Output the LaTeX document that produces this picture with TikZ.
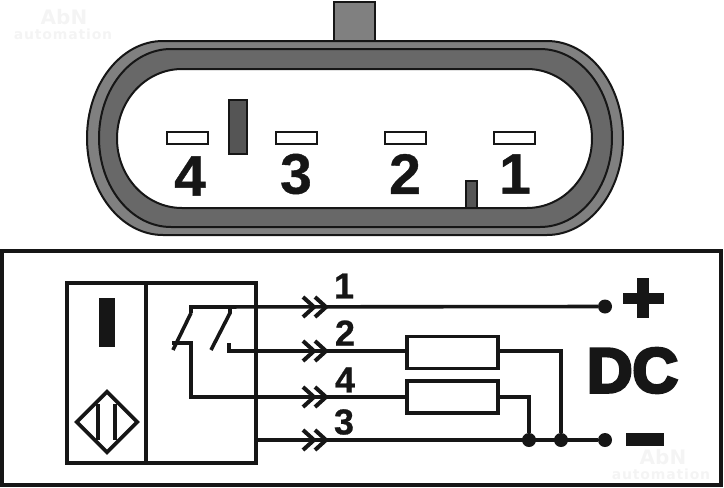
\documentclass[tikz,border=0pt]{standalone}
\usepackage{fontspec}
\usepackage{xcolor}
\setmainfont{Liberation Sans}
\newfontfamily\markfont{DejaVu Sans Bold}
\newfontfamily\widemarkfont[LetterSpace=6]{DejaVu Sans Bold}
\newfontfamily\digitfont[FakeBold=0.7]{Liberation Sans Bold}
\newfontfamily\heavyfont[FakeBold=5]{Liberation Sans Bold}
\usetikzlibrary{positioning}
\usetikzlibrary{shapes.geometric}
\definecolor{shellgray}{HTML}{808080}
\definecolor{bandgray}{HTML}{686868}
\definecolor{keygray}{HTML}{555555}
\definecolor{ink}{HTML}{161616}
\definecolor{markgray}{HTML}{F4F4F4}
\newcommand{\bigsize}{\digitfont\fontsize{57}{57}\selectfont}
\newcommand{\wiresize}{\digitfont\fontsize{36}{36}\selectfont}
\tikzset{
shell/.style={draw=ink,line width=2pt},
slot/.style={draw=ink,line width=2pt,fill=white,inner sep=0pt,minimum width=41,minimum height=12},
pinno/.style={text=ink,inner sep=0pt,font=\bigsize},
wireno/.style={text=ink,inner sep=0pt,font=\wiresize},
wire/.style={draw=ink,line width=3.6pt,line join=miter},
load/.style={draw=ink,line width=3.6pt,fill=white,inner sep=0pt,minimum width=91,minimum height=32},
termdot/.style={circle,fill=ink,inner sep=0pt,minimum size=14},
wmark/.style={text=markgray,inner sep=0pt},
plug/.pic={
\draw[wire,line width=4pt] (-23,-10) -- (-12,0) -- (-23,10);
\draw[wire,line width=4pt] (-11,-10) -- (0,0) -- (-11,10);
}
}
\begin{document}
\begin{tikzpicture}[x=1pt,y=-1pt]
\useasboundingbox (0,0) rectangle (724,488);
% watermarks
\node[wmark,font=\markfont\fontsize{20}{20}\selectfont] (markA) at (64,17) {AbN};
\node[wmark,font=\widemarkfont\fontsize{14}{14}\selectfont] (markB) at (63,34.5) {automation};
\node[wmark,font=\markfont\fontsize{20}{20}\selectfont] (markC) at (663,457) {AbN};
\node[wmark,font=\widemarkfont\fontsize{14}{14}\selectfont] (markD) at (661,474.5) {automation};
% connector body
\node[draw=ink,line width=2pt,fill=shellgray,inner sep=0pt,minimum width=41,minimum height=40] (tab) at (354,21.5) {};
\draw[shell,fill=shellgray] (163,41) -- (547,41) arc[start angle=-90,end angle=90,x radius=76,y radius=97] -- (163,235) arc[start angle=90,end angle=270,x radius=76,y radius=97] -- cycle;
\draw[shell,fill=bandgray] (171,49) -- (540,49) arc[start angle=-90,end angle=90,x radius=72,y radius=89] -- (171,227) arc[start angle=90,end angle=270,x radius=72,y radius=89] -- cycle;
\draw[shell,fill=white] (182,69) -- (527,69) arc[start angle=-90,end angle=90,x radius=65,y radius=69.5] -- (182,208) arc[start angle=90,end angle=270,x radius=65,y radius=69.5] -- cycle;
\node[draw=ink,line width=2pt,fill=keygray,inner sep=0pt,minimum width=18,minimum height=54] (keyA) at (238,127) {};
\node[draw=ink,line width=2pt,fill=keygray,inner sep=0pt,minimum width=11,minimum height=27] (keyB) at (471.5,194.5) {};
\foreach \n/\x in {4/187.5,3/296,2/405.5,1/514.5}{
\node[slot] (slot\n) at (\x,138) {};
}
\node[pinno] (pinD) at (190,176) {4};
\node[pinno] (pinC) at (296,174) {3};
\node[pinno] (pinB) at (405,174) {2};
\node[pinno] (pinA) at (515,174) {1};
% schematic frame
\node[draw=ink,line width=3.5pt,inner sep=0pt,minimum width=719,minimum height=234] (frame) at (361.5,368) {};
\node[draw=ink,line width=4pt,inner sep=0pt,minimum width=189,minimum height=180] (sensor) at (161.5,373) {};
\draw[wire] (146,283) -- (146,463);
\node[fill=ink,inner sep=0pt,minimum width=16,minimum height=49] (bar) at (107,322.5) {};
\node[draw=ink,line width=3.6pt,shape=diamond,shape aspect=1,inner sep=0pt,minimum size=62] (coil) at (107,422) {};
\draw[wire] (98,404) -- (98,440);
\draw[wire] (115,404) -- (115,440);
% terminals and loads
\node[termdot] (plus) at (605,306.5) {};
\node[termdot] (minus) at (605,440) {};
\node[termdot] (jA) at (529,440) {};
\node[termdot] (jB) at (561,440) {};
\node[load] (loadB) at (452.5,352.5) {};
\node[load] (loadD) at (452.5,397) {};
\coordinate (top) at (191,307);
\coordinate (topB) at (230,307);
\coordinate (nc) at (172,343);
\coordinate (no) at (229,343);
% wires
\draw[wire] (191,313) -- (top) -- (plus);
\draw[wire] (topB) -- (230,313) -- (211,350);
\draw[wire] (191,313) -- (173,350);
\draw[wire] (nc) -- (191,343) -- (191,397) -- (loadD.west);
\draw[wire] (no) -- (229,351) -- (407,351);
\draw[wire] (sensor.east |- minus) -- (minus);
\draw[wire] (498,351) -- (561,351) -- (jB);
\draw[wire] (loadD.east) -- (529,397) -- (jA);
\foreach \y in {307,351,397,440}{
\pic at (326,\y) {plug};
}
\node[wireno] (noA) at (344,286) {1};
\node[wireno] (noB) at (345,333) {2};
\node[wireno] (noD) at (345,380) {4};
\node[wireno] (noC) at (344,422) {3};
% supply
\node[fill=ink,inner sep=0pt,minimum width=41,minimum height=11] (plusH) at (643.5,298) {};
\node[fill=ink,inner sep=0pt,minimum width=12,minimum height=40] (plusV) at (643,298) {};
\node[fill=ink,inner sep=0pt,minimum width=38,minimum height=13] (minusbar) at (645,439.5) {};
\node[text=ink,inner sep=0pt,font=\heavyfont\fontsize{63}{63}\selectfont] (dc) at (632.5,370.5) {DC};
\end{tikzpicture}
\end{document}
